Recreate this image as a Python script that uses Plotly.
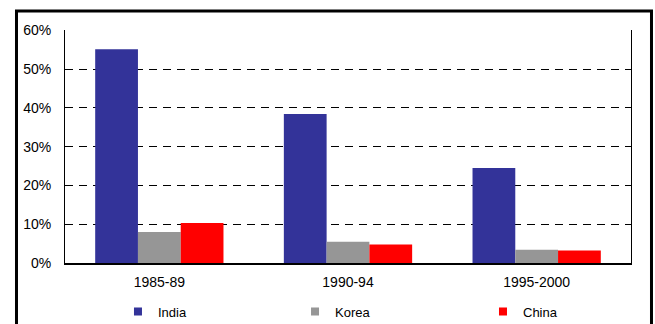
"""Share of exports by period — grouped bar chart."""
import plotly.graph_objects as go

periods = ["1985-89", "1990-94", "1995-2000"]
india = [55.1, 38.4, 24.5]
korea = [8.0, 5.5, 3.4]
china = [10.3, 4.8, 3.2]
y_ticks = [0, 10, 20, 30, 40, 50, 60]

_INDIA = "#333399"
_KOREA = "#969696"
_CHINA = "#ff0000"
_FONT = "Liberation Sans, Arial, sans-serif"

series = [("India", india, _INDIA, "legend"),
          ("Korea", korea, _KOREA, "legend2"),
          ("China", china, _CHINA, "legend3")]

fig = go.Figure()
for name, vals, col, leg in series:
    fig.add_trace(go.Bar(x=periods, y=vals, name=name, marker_color=col,
                         marker_line_width=0, showlegend=False))
    # small square legend markers, one legend box each so they can be spread out
    fig.add_trace(go.Scatter(x=[None], y=[None], mode="markers", name=name,
                             legend=leg,
                             marker=dict(symbol="square", size=8, color=col)))

# outer frame around the chart
fig.add_shape(type="rect", xref="paper", yref="paper",
              x0=-0.0857, x1=1.0362, y0=-0.6, y1=1.0815,
              line=dict(color="black", width=3), layer="below")

leg_common = dict(orientation="h", y=-0.144, xanchor="left", yanchor="top",
                  font=dict(size=13), bgcolor="rgba(0,0,0,0)")

fig.update_layout(
    width=655, height=324,
    margin=dict(l=65, r=24, t=30, b=61, autoexpand=False),
    paper_bgcolor="white", plot_bgcolor="white",
    font=dict(family=_FONT, size=14, color="black"),
    barmode="group", bargap=0.32, bargroupgap=0,
    xaxis=dict(showline=True, linecolor="black", linewidth=2, ticks="",
               showgrid=False, ticklabelstandoff=5),
    yaxis=dict(range=[0, 60.05], tickvals=y_ticks,
               ticktext=[f"{v}%" for v in y_ticks],
               showline=True, linecolor="black", linewidth=1, mirror=True,
               showgrid=True, gridcolor="black", gridwidth=1, griddash="8px,6px",
               zeroline=False, ticks="", ticklabelstandoff=10),
    legend=dict(x=0.0936, **leg_common),
    legend2=dict(x=0.4064, **leg_common),
    legend3=dict(x=0.7385, **leg_common),
)

fig.write_html("out.html", config={"displayModeBar": False},
               post_script="document.body.style.margin='0';")
